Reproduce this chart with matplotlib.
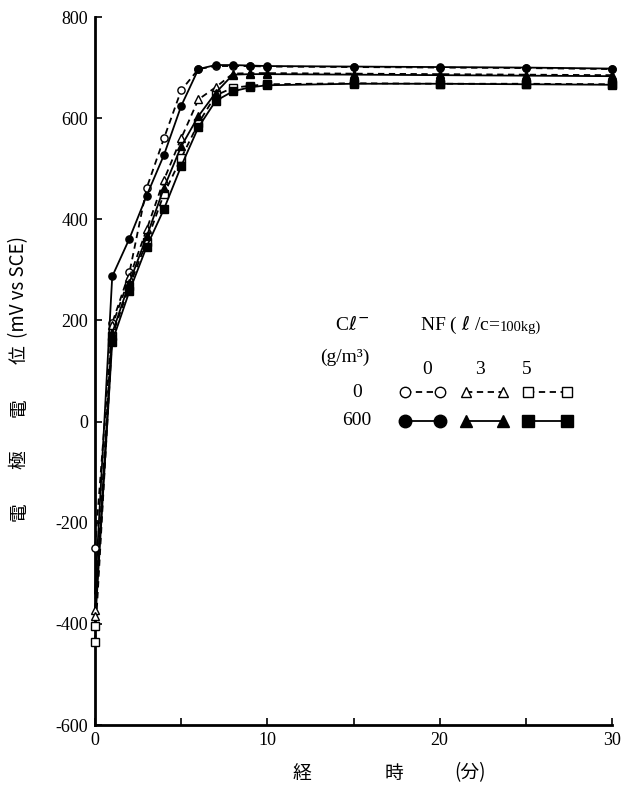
import matplotlib
matplotlib.use("Agg")
import matplotlib.pyplot as plt
from matplotlib.lines import Line2D

# elapsed time (min)
times = [0, 1, 2, 3, 4, 5, 6, 7, 8, 9, 10, 15, 20, 25, 30]

# electrode potential (mV vs SCE); Cl- 0 g/m3 (open) and 600 g/m3 (filled), NF 0 / 3 / 5
cl0_nf0 = [-250, 195, 295, 462, 560, 655, 697, 703, 703, 703, 702, 701, 700, 699, 697]
cl600_nf0 = [-340, 287, 362, 447, 527, 624, 697, 705, 705, 704, 703, 702, 701, 700, 698]
cl0_nf3 = [-372, 190, 285, 380, 478, 560, 637, 661, 688, 689, 689, 688, 687, 686, 685]
cl600_nf3 = [-385, 175, 275, 366, 462, 544, 604, 650, 686, 687, 687, 686, 685, 684, 683]
cl0_nf5 = [-435, 170, 268, 356, 450, 521, 590, 645, 660, 664, 667, 669, 668, 668, 667]
cl600_nf5 = [-405, 158, 258, 346, 420, 505, 582, 634, 653, 661, 665, 668, 668, 667, 666]

xticks = [0, 10, 20, 30]
yticks = [-600, -400, -200, 0, 200, 400, 600, 800]

W, H = 622, 787
fig = plt.figure(figsize=(W / 100, H / 100), dpi=100)
ax = fig.add_axes([95 / W, 1 - 725 / H, 517 / W, 708 / H])

num_font = "Liberation Serif"
cjk = ["Noto Sans CJK JP", "DejaVu Sans"]

lw = 1.3
ms = 5.2
dash = (0, (3.5, 2.5))

# (values, marker, face, linestyle, face of the starting point or None to hide it)
series = [
    (cl0_nf0, "o", "white", dash, "white"),
    (cl0_nf3, "^", "white", dash, "white"),
    (cl0_nf5, "s", "white", dash, "white"),
    (cl600_nf0, "o", "black", "-", None),
    (cl600_nf3, "^", "black", "-", "white"),
    (cl600_nf5, "s", "black", "-", "white"),
]
for vals, mk, face, ls, start_face in series:
    ax.plot(times, vals, color="black", lw=lw, ls=ls, marker=mk, ms=ms,
            mfc=face, mec="black", mew=1.0, markevery=slice(1, None),
            clip_on=False, zorder=3)
    if start_face is not None:
        ax.plot(times[:1], vals[:1], ls="none", marker=mk, ms=ms,
                mfc=start_face, mec="black", mew=1.0, clip_on=False, zorder=4)

ax.set_xlim(0, 30)
ax.set_ylim(-600, 800)
ax.set_xticks([0, 5, 10, 15, 20, 25, 30])
ax.set_xticklabels(["0", "", "10", "", "20", "", "30"])
ax.set_yticks(yticks)
ax.set_yticklabels([str(v) for v in yticks])
for s in ("top", "right"):
    ax.spines[s].set_visible(False)
for s in ("left", "bottom"):
    ax.spines[s].set_linewidth(2.0)
ax.tick_params(axis="both", direction="in", length=5, width=1.2, labelsize=13, pad=5)
for lab in ax.get_xticklabels() + ax.get_yticklabels():
    lab.set_fontfamily(num_font)


def fx(px):
    return px / W


def fy(py):
    return 1 - py / H


# axis titles
for ch, py in [("電", 512), ("極", 460), ("電", 408), ("位", 355)]:
    fig.text(fx(19), fy(py), ch, rotation=90, ha="center", va="center",
             fontsize=13.5, family=cjk)
fig.text(fx(19), fy(287), "(mV vs SCE)", rotation=90, ha="center", va="center",
         fontsize=13.5, family=cjk)
for ch, px in [("経", 302), ("時", 394), ("(分)", 470)]:
    fig.text(fx(px), fy(773), ch, ha="center", va="center", fontsize=13.5,
             family=cjk)

tfont = dict(family=num_font, fontsize=14, ha="center", va="center")
fig.text(fx(352), fy(325), r"C$\ell^{-}$", **tfont)
fig.text(fx(345), fy(357), "(g/m³)", **tfont)
fig.text(fx(500), fy(325), r"NF ( $\ell$ /c=", ha="right", va="center",
         family=num_font, fontsize=14)
fig.text(fx(500), fy(327), "100kg)", ha="left", va="center",
         family=num_font, fontsize=10.5)
fig.text(fx(427), fy(370), "0", **tfont)
fig.text(fx(480), fy(370), "3", **tfont)
fig.text(fx(527), fy(370), "5", **tfont)
fig.text(fx(357), fy(392), "0", **tfont)
fig.text(fx(357), fy(421), "600", **tfont)

leg_rows = [
    (392, "white", dash, 7.5),
    (421, "black", "-", 9),
]
leg_cols = [("o", 405, 440), ("^", 466, 503), ("s", 528, 567)]
for py, face, ls, size in leg_rows:
    for mk, x0, x1 in leg_cols:
        fig.add_artist(Line2D([fx(x0), fx(x1)], [fy(py), fy(py)],
                              transform=fig.transFigure, color="black", lw=lw,
                              ls=ls, marker=mk, ms=size, mfc=face, mec="black",
                              mew=1.0))

fig.savefig("out.png", dpi=100)
